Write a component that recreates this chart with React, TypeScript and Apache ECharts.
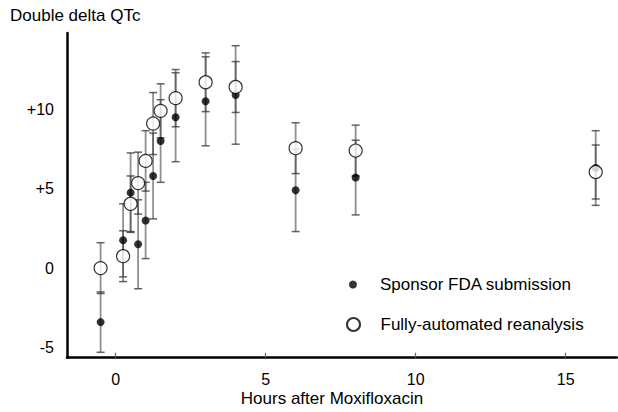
import React, { useEffect, useRef } from "react";
import * as echarts from "echarts";

const hours = [-0.5, 0.25, 0.5, 0.75, 1, 1.25, 1.5, 2, 3, 4, 6, 8, 16];
const sponsorMean = [-3.4, 1.75, 4.75, 1.5, 3.0, 5.8, 8.0, 9.5, 10.5, 10.9, 4.9, 5.7, 6.3];
const sponsorErr = [1.9, 2.3, 2.5, 2.8, 2.4, 2.7, 2.6, 2.8, 2.8, 3.1, 2.6, 2.35, 2.35];
const autoMean = [0.0, 0.75, 4.05, 5.35, 6.75, 9.1, 9.9, 10.7, 11.7, 11.4, 7.55, 7.4, 6.05];
const autoErr = [1.6, 1.6, 1.75, 1.95, 1.9, 1.95, 1.7, 1.8, 1.85, 1.6, 1.6, 1.6, 1.7];
const xTicks = [0, 5, 10, 15];
const yTicks = [-5, 0, 5, 10];
const seriesNames = ["Sponsor FDA submission", "Fully-automated reanalysis"];
const yTitle = "Double delta QTc";
const xTitle = "Hours after Moxifloxacin";

const FONT = '"Liberation Sans", Arial, Helvetica, sans-serif';

function errorSeries(id: string, means: number[], errs: number[]) {
  return {
    type: "custom",
    id,
    silent: true,
    z: 1,
    renderItem: (params: any, api: any) => {
      const x = api.value(0);
      const lo = api.coord([x, api.value(1)]);
      const hi = api.coord([x, api.value(2)]);
      const half = 4;
      const bar = { stroke: "rgba(70,70,70,0.6)", lineWidth: 1.8 };
      const cap = { stroke: "rgba(50,50,50,0.75)", lineWidth: 1.5 };
      return {
        type: "group",
        children: [
          { type: "line", shape: { x1: lo[0], y1: lo[1], x2: hi[0], y2: hi[1] }, style: bar },
          { type: "line", shape: { x1: lo[0] - half, y1: lo[1], x2: lo[0] + half, y2: lo[1] }, style: cap },
          { type: "line", shape: { x1: hi[0] - half, y1: hi[1], x2: hi[0] + half, y2: hi[1] }, style: cap },
        ],
      };
    },
    encode: { x: 0, y: [1, 2] },
    data: hours.map((h, i) => [h, means[i] - errs[i], means[i] + errs[i]]),
  };
}

export default function App() {
  const ref = useRef<HTMLDivElement>(null);
  useEffect(() => {
    if (!ref.current) return;
    const chart = echarts.init(ref.current, undefined, { renderer: "svg" });
    chart.setOption({
      animation: false,
      backgroundColor: "#fff",
      textStyle: { fontFamily: FONT },
      grid: { left: 67, right: 1, top: 33, bottom: 54.3, containLabel: false, outerBoundsMode: "none" },
      xAxis: {
        type: "value",
        min: -1.62,
        max: 16.71,
        axisLine: { show: true, onZero: false, lineStyle: { color: "#000", width: 2.5 } },
        axisTick: { show: true, inside: true, length: 5, customValues: xTicks, lineStyle: { color: "#666", width: 1.2 } },
        axisLabel: { customValues: xTicks, color: "#000", fontSize: 16, margin: 14, fontFamily: FONT },
        splitLine: { show: false },
      },
      yAxis: {
        type: "value",
        min: -5.64,
        max: 14.8,
        axisLine: { show: true, onZero: false, lineStyle: { color: "#000", width: 2.5 } },
        axisTick: { show: false },
        axisLabel: {
          customValues: yTicks,
          color: "#000",
          fontSize: 16,
          margin: 13,
          fontFamily: FONT,
          formatter: (v: number) => (v > 0 ? "+" + v : String(v)),
        },
        splitLine: { show: false },
      },
      legend: [
        {
          data: [seriesNames[0]],
          left: 349,
          top: 276,
          padding: 0,
          itemWidth: 44,
          itemHeight: 8,
          selectedMode: false,
          textStyle: { color: "#000", fontSize: 17, fontFamily: FONT },
        },
        {
          data: [seriesNames[1]],
          left: 346,
          top: 316,
          padding: 0,
          itemWidth: 44,
          itemHeight: 13,
          selectedMode: false,
          textStyle: { color: "#000", fontSize: 17, fontFamily: FONT },
        },
      ],
      graphic: [
        {
          type: "text",
          x: 10,
          y: 15,
          style: { text: yTitle, fill: "#000", font: `17px ${FONT}`, textAlign: "left", textVerticalAlign: "middle", align: "left", verticalAlign: "middle" },
        },
        {
          type: "text",
          x: 332,
          y: 398,
          style: { text: xTitle, fill: "#000", font: `17px ${FONT}`, textAlign: "center", textVerticalAlign: "middle", align: "center", verticalAlign: "middle" },
        },
      ],
      series: [
        errorSeries("errSponsor", sponsorMean, sponsorErr),
        errorSeries("errAuto", autoMean, autoErr),
        {
          type: "scatter",
          name: seriesNames[0],
          z: 2,
          symbol: "circle",
          symbolSize: 8,
          itemStyle: { color: "#000" },
          data: hours.map((h, i) => [h, sponsorMean[i]]),
        },
        {
          type: "scatter",
          name: seriesNames[1],
          z: 3,
          symbol: "circle",
          symbolSize: 13,
          itemStyle: { color: "#fff", borderColor: "#000", borderWidth: 1.2 },
          data: hours.map((h, i) => [h, autoMean[i]]),
        },
      ],
    });
    return () => chart.dispose();
  }, []);
  return <div ref={ref} style={{ position: "absolute", left: 0, top: 0, width: 618, height: 412 }} />;
}
